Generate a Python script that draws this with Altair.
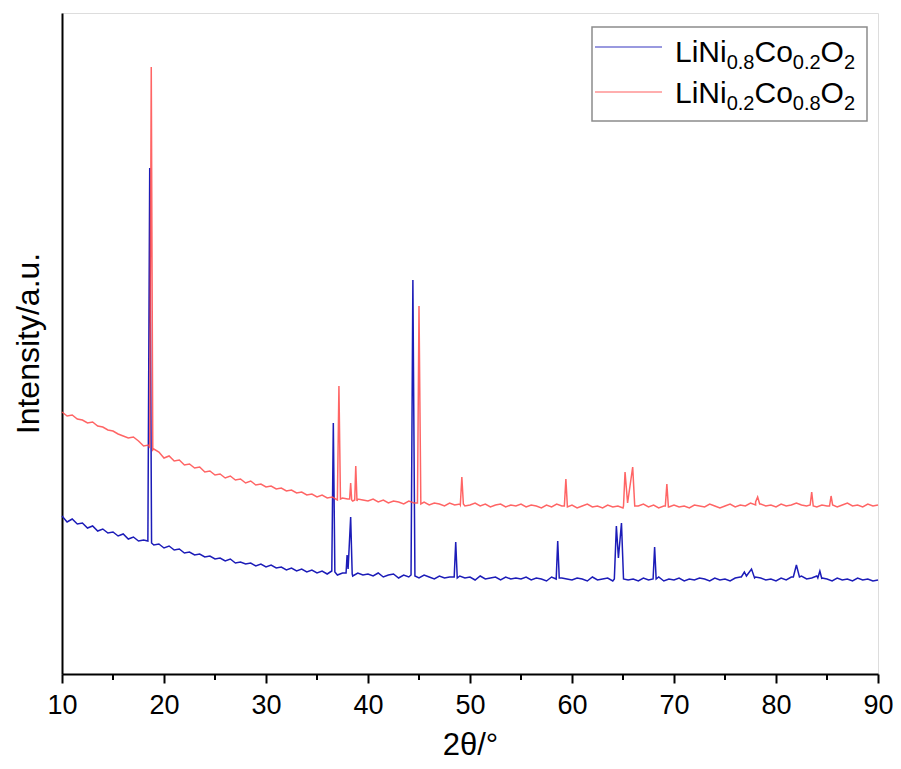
import altair as alt
import pandas as pd

FONT = "Liberation Sans"
BLUE = "#1c1cb8"
RED = "#ff4a4a"

# ---- data (intensity in arbitrary units) ----
X_START = 10.0
STEP = 0.5

blue_base = [
    158, 152, 155, 150, 151, 146, 148, 143, 145, 141,
    142, 138, 140, 135, 137, 133, 134, 131, 129, 130,
    126, 128, 124, 125, 121, 122, 119, 120, 117, 118,
    115, 116, 113, 115, 111, 112, 110, 111, 108, 110,
    107, 109, 106, 107, 104, 106, 103, 105, 102, 104,
    101, 103, 100, 102, 99, 101, 100, 98, 101, 99,
    100, 98, 101, 97, 99, 100, 96, 99, 97, 98,
    96, 99, 97, 95, 98, 96, 97, 95, 98, 96,
    97, 94, 98, 95, 96, 97, 94, 97, 95, 96,
    95, 97, 94, 96, 95, 93, 97, 94, 96, 95,
    94, 96, 95, 93, 97, 94, 95, 96, 93, 95,
    96, 94, 95, 93, 96, 94, 95, 97, 93, 95,
    94, 96, 93, 95, 94, 96, 95, 93, 96, 94,
    95, 93, 96, 97, 99, 98, 97, 96, 94, 95,
    93, 96, 94, 97, 99, 98, 95, 96, 98, 96,
    95, 93, 96, 94, 95, 93, 96, 94, 95, 93,
    94,
]

red_base = [
    262, 258, 259, 255, 254, 251, 252, 248, 247, 244,
    243, 240, 238, 236, 237, 233, 228, 229, 225, 222,
    216, 218, 213, 214, 209, 210, 206, 207, 202, 203,
    199, 200, 196, 198, 194, 195, 191, 193, 189, 190,
    187, 188, 185, 186, 183, 184, 181, 182, 179, 180,
    177, 179, 176, 177, 174, 176, 175, 173, 175, 174,
    173, 175, 172, 174, 171, 173, 172, 170, 173, 171,
    170, 172, 169, 171, 170, 168, 171, 169, 170, 168,
    169, 171, 168, 170, 167, 169, 170, 167, 169, 168,
    170, 167, 169, 168, 166, 169, 167, 170, 168, 167,
    169, 166, 168, 170, 167, 168, 166, 169, 167, 168,
    166, 169, 167, 168, 170, 167, 169, 166, 168, 167,
    169, 167, 168, 166, 169, 168, 167, 170, 168, 166,
    168, 170, 167, 169, 168, 171, 172, 170, 168, 169,
    167, 170, 168, 169, 171, 169, 168, 170, 167, 169,
    168, 170, 167, 169, 171, 168, 169, 167, 170, 168,
    169,
]

blue_peaks = [
    [(18.42, 133), (18.6, 506), (18.78, 131)],
    [(36.45, 103), (36.6, 251), (36.75, 102)],
    [(37.85, 101), (37.95, 119), (38.05, 105), (38.3, 157), (38.45, 100)],
    [(44.22, 99), (44.4, 394), (44.6, 98)],
    [(48.45, 97), (48.6, 132), (48.75, 96)],
    [(58.45, 95), (58.6, 133), (58.75, 96)],
    [(64.15, 95), (64.35, 148), (64.55, 116), (64.85, 151), (65.05, 95)],
    [(67.95, 95), (68.1, 127), (68.25, 95)],
    [(76.6, 97), (76.9, 102), (77.1, 98), (77.6, 105), (77.9, 96)],
    [(81.7, 97), (82.0, 109), (82.3, 97)],
    [(84.1, 96), (84.3, 103), (84.5, 95)],
]

red_peaks = [
    [(18.6, 226), (18.75, 607), (18.9, 224)],
    [(37.0, 176), (37.15, 288), (37.3, 175)],
    [(38.2, 175), (38.3, 191), (38.4, 174)],
    [(38.7, 174), (38.8, 208), (38.92, 173)],
    [(44.85, 171), (45.0, 368), (45.18, 170)],
    [(49.05, 169), (49.2, 197), (49.35, 170)],
    [(59.25, 168), (59.4, 195), (59.55, 167)],
    [(65.05, 168), (65.2, 202), (65.45, 171), (65.95, 207), (66.15, 168)],
    [(69.15, 168), (69.3, 190), (69.45, 167)],
    [(78.0, 169), (78.2, 177), (78.4, 170)],
    [(83.35, 169), (83.5, 182), (83.65, 168)],
    [(85.25, 168), (85.4, 178), (85.55, 169)],
]

x_ticks = [10, 20, 30, 40, 50, 60, 70, 80, 90]
x_minor = [15, 25, 35, 45, 55, 65, 75, 85]

labels = ["LiNi0.8Co0.2O2", "LiNi0.2Co0.8O2"]
legend_segments = [
    [("LiNi", 0), ("0.8", 1), ("Co", 0), ("0.2", 1), ("O", 0), ("2", 1)],
    [("LiNi", 0), ("0.2", 1), ("Co", 0), ("0.8", 1), ("O", 0), ("2", 1)],
]


def build(base, peaks):
    ranges = [(g[0][0], g[-1][0]) for g in peaks]
    pts = []
    for i, v in enumerate(base):
        x = X_START + STEP * i
        if any(a < x < b for a, b in ranges):
            continue
        pts.append((x, v))
    for g in peaks:
        pts.extend(g)
    pts.sort()
    return pd.DataFrame(pts, columns=["theta", "intensity"])


blue_df = build(blue_base, blue_peaks)
red_df = build(red_base, red_peaks)

W, H = 816, 661
x_scale = alt.Scale(domain=[10, 90], nice=False, zero=False)
y_scale = alt.Scale(domain=[0, 661], nice=False, zero=False)

x_axis = alt.Axis(
    values=x_ticks, format="d", title="2θ/°", grid=False,
    labelFont=FONT, labelFontSize=27, labelColor="black", labelPadding=9,
    labelFlush=False, labelAlign="center",
    tickSize=9, tickWidth=2, tickColor="black",
    domainColor="black", domainWidth=2,
    titleFont=FONT, titleFontSize=31, titleFontWeight="normal", titleColor="black",
    titleX=W / 2, titleY=71, titleBaseline="middle", titleAlign="center",
)
y_axis = alt.Axis(
    labels=False, ticks=False, grid=False, title="Intensity/a.u.",
    domainColor="black", domainWidth=2,
    titleFont=FONT, titleFontSize=32, titleFontWeight="normal", titleColor="black",
    titleX=-34, titleY=330, titleAngle=270, titleBaseline="middle", titleAlign="center",
)

X = alt.X("theta:Q", scale=x_scale, axis=x_axis)
Y = alt.Y("intensity:Q", scale=y_scale, axis=y_axis)

blue_line = alt.Chart(blue_df).mark_line(color=BLUE, strokeWidth=1.5).encode(x=X, y=Y)
red_line = alt.Chart(red_df).mark_line(color=RED, strokeWidth=1.5, opacity=0.85).encode(x=X, y=Y)

minor = alt.Chart(pd.DataFrame({"theta": x_minor})).mark_rule(
    color="black", strokeWidth=2
).encode(x=alt.X("theta:Q", scale=x_scale, axis=x_axis), y=alt.value(H), y2=alt.value(H + 6))

one = pd.DataFrame({"k": [0]})
layers = [blue_line, red_line, minor]

# legend box
layers.append(alt.Chart(one).mark_rect(fill="white", stroke="#8c8c8c", strokeWidth=1.5).encode(
    x=alt.value(530), x2=alt.value(805), y=alt.value(14), y2=alt.value(108)))

ARIAL = {"L": 556, "i": 222, "N": 722, "C": 722, "o": 556, "O": 778, ".": 278}
for d in "0123456789":
    ARIAL[d] = 556

row_line_y = [34, 79]
row_base_y = [49, 90]
colors = [BLUE, RED]
for r in range(2):
    layers.append(alt.Chart(one).mark_rule(color=colors[r], strokeWidth=1.3, opacity=0.6).encode(
        x=alt.value(533), x2=alt.value(600), y=alt.value(row_line_y[r])))
    px = 613.0
    for seg, sub in legend_segments[r]:
        fs = 20 if sub else 30
        py = row_base_y[r] + (7 if sub else 0)
        layers.append(alt.Chart(one).mark_text(
            text=seg, font=FONT, fontSize=fs, align="left", baseline="alphabetic", color="black"
        ).encode(x=alt.value(px), y=alt.value(py)))
        px += sum(ARIAL[c] for c in seg) * fs / 1000.0

chart = alt.layer(*layers).properties(
    width=W, height=H,
    autosize=alt.AutoSizeParams(type="none"),
    padding={"left": 54, "top": 5, "right": 15, "bottom": 86},
).configure_view(stroke="black", strokeWidth=2).configure(background="white")

chart.save("out.html", embed_options={"renderer": "svg", "actions": False})
